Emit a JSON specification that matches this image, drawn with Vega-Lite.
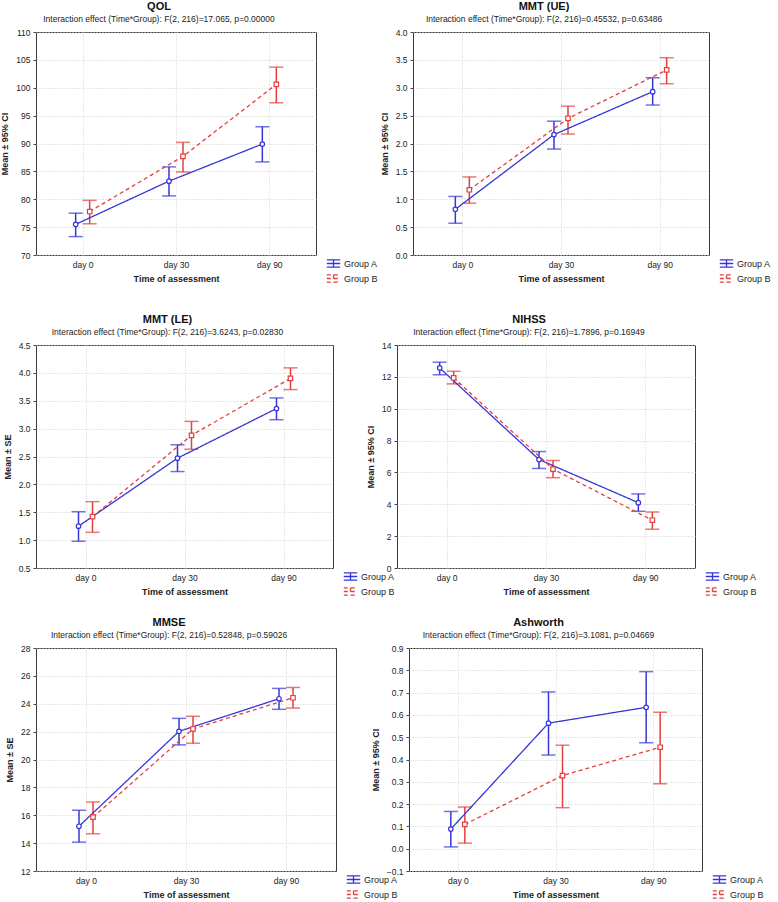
{
  "$schema": "https://vega.github.io/schema/vega-lite/v6.json",
  "padding": {"left": 0, "top": 0, "right": 0, "bottom": 0},
  "background": "white",
  "datasets": {
    "d": [
      {"measure": "QOL", "time": "day 0", "group": "Group A", "mean": 75.5, "lo": 73.3, "hi": 77.5},
      {"measure": "QOL", "time": "day 30", "group": "Group A", "mean": 83.25, "lo": 80.6, "hi": 85.8},
      {"measure": "QOL", "time": "day 90", "group": "Group A", "mean": 89.9, "lo": 86.7, "hi": 93.0},
      {"measure": "QOL", "time": "day 0", "group": "Group B", "mean": 77.8, "lo": 75.6, "hi": 79.8},
      {"measure": "QOL", "time": "day 30", "group": "Group B", "mean": 87.7, "lo": 84.9, "hi": 90.2},
      {"measure": "QOL", "time": "day 90", "group": "Group B", "mean": 100.6, "lo": 97.3, "hi": 103.7},
      {"measure": "UE", "time": "day 0", "group": "Group A", "mean": 0.82, "lo": 0.57, "hi": 1.05},
      {"measure": "UE", "time": "day 30", "group": "Group A", "mean": 2.16, "lo": 1.90, "hi": 2.40},
      {"measure": "UE", "time": "day 90", "group": "Group A", "mean": 2.93, "lo": 2.69, "hi": 3.18},
      {"measure": "UE", "time": "day 0", "group": "Group B", "mean": 1.17, "lo": 0.93, "hi": 1.40},
      {"measure": "UE", "time": "day 30", "group": "Group B", "mean": 2.45, "lo": 2.17, "hi": 2.67},
      {"measure": "UE", "time": "day 90", "group": "Group B", "mean": 3.32, "lo": 3.07, "hi": 3.54},
      {"measure": "LE", "time": "day 0", "group": "Group A", "mean": 1.25, "lo": 0.98, "hi": 1.51},
      {"measure": "LE", "time": "day 30", "group": "Group A", "mean": 2.47, "lo": 2.23, "hi": 2.71},
      {"measure": "LE", "time": "day 90", "group": "Group A", "mean": 3.36, "lo": 3.16, "hi": 3.55},
      {"measure": "LE", "time": "day 0", "group": "Group B", "mean": 1.42, "lo": 1.14, "hi": 1.69},
      {"measure": "LE", "time": "day 30", "group": "Group B", "mean": 2.88, "lo": 2.63, "hi": 3.13},
      {"measure": "LE", "time": "day 90", "group": "Group B", "mean": 3.90, "lo": 3.70, "hi": 4.09},
      {"measure": "NIHSS", "time": "day 0", "group": "Group A", "mean": 12.56, "lo": 12.13, "hi": 12.92},
      {"measure": "NIHSS", "time": "day 30", "group": "Group A", "mean": 6.81, "lo": 6.25, "hi": 7.31},
      {"measure": "NIHSS", "time": "day 90", "group": "Group A", "mean": 4.1, "lo": 3.56, "hi": 4.65},
      {"measure": "NIHSS", "time": "day 0", "group": "Group B", "mean": 11.94, "lo": 11.56, "hi": 12.35},
      {"measure": "NIHSS", "time": "day 30", "group": "Group B", "mean": 6.21, "lo": 5.67, "hi": 6.75},
      {"measure": "NIHSS", "time": "day 90", "group": "Group B", "mean": 3.0, "lo": 2.44, "hi": 3.52},
      {"measure": "MMSE", "time": "day 0", "group": "Group A", "mean": 15.21, "lo": 14.07, "hi": 16.36},
      {"measure": "MMSE", "time": "day 30", "group": "Group A", "mean": 22.02, "lo": 21.05, "hi": 22.95},
      {"measure": "MMSE", "time": "day 90", "group": "Group A", "mean": 24.36, "lo": 23.6, "hi": 25.1},
      {"measure": "MMSE", "time": "day 0", "group": "Group B", "mean": 15.86, "lo": 14.67, "hi": 16.95},
      {"measure": "MMSE", "time": "day 30", "group": "Group B", "mean": 22.19, "lo": 21.17, "hi": 23.1},
      {"measure": "MMSE", "time": "day 90", "group": "Group B", "mean": 24.43, "lo": 23.69, "hi": 25.17},
      {"measure": "Ashworth", "time": "day 0", "group": "Group A", "mean": 0.088, "lo": 0.008, "hi": 0.167},
      {"measure": "Ashworth", "time": "day 30", "group": "Group A", "mean": 0.563, "lo": 0.42, "hi": 0.703},
      {"measure": "Ashworth", "time": "day 90", "group": "Group A", "mean": 0.634, "lo": 0.475, "hi": 0.794},
      {"measure": "Ashworth", "time": "day 0", "group": "Group B", "mean": 0.109, "lo": 0.025, "hi": 0.187},
      {"measure": "Ashworth", "time": "day 30", "group": "Group B", "mean": 0.328, "lo": 0.184, "hi": 0.464},
      {"measure": "Ashworth", "time": "day 90", "group": "Group B", "mean": 0.455, "lo": 0.291, "hi": 0.612}
    ]
  },
  "vconcat": [
    {
      "hconcat": [
        {
          "width": 280, "height": 223,
          "title": {"text": "QOL", "subtitle": "Interaction effect (Time*Group): F(2, 216)=17.065, p=0.00000"},
          "data": {"name": "d"},
          "transform": [{"filter": "datum.measure === 'QOL'"}],
          "encoding": {
            "x": {"field": "time", "type": "ordinal", "sort": ["day 0", "day 30", "day 90"], "scale": {"type": "point", "padding": 0.5}, "axis": {"title": "Time of assessment", "labelAngle": 0, "ticks": false, "labelPadding": 5, "titlePadding": 6}},
            "xOffset": {"field": "group", "type": "nominal", "scale": {"type": "point", "range": [-7, 7], "padding": 0}}
          },
          "layer": [
            {"mark": {"type": "rule", "strokeWidth": 1.5}, "encoding": {"y": {"field": "lo", "type": "quantitative", "title": "Mean ± 95% CI", "scale": {"domain": [70, 110], "nice": false, "zero": false}, "axis": {"values": [70, 75, 80, 85, 90, 95, 100, 105, 110]}}, "y2": {"field": "hi"}, "color": {"field": "group", "type": "nominal", "scale": {"domain": ["Group A", "Group B"], "range": ["#3636d8", "#e2403f"]}, "legend": {"title": null, "orient": "none", "legendX": 290, "legendY": 224, "symbolType": "M-1,-0.55H1M-1,0.55H1M0,-0.55V0.55M-1,0H1", "symbolSize": 180, "symbolStrokeWidth": 1.3, "symbolFillColor": "white"}}}},
            {"mark": {"type": "tick", "thickness": 1.5, "size": 14}, "encoding": {"y": {"field": "lo", "type": "quantitative", "title": "Mean ± 95% CI", "axis": {"values": [70, 75, 80, 85, 90, 95, 100, 105, 110]}}, "fill": {"field": "group", "type": "nominal", "scale": {"domain": ["Group A", "Group B"], "range": ["#3636d8", "#e2403f"]}, "legend": null}}},
            {"mark": {"type": "tick", "thickness": 1.5, "size": 14}, "encoding": {"y": {"field": "hi", "type": "quantitative", "title": "Mean ± 95% CI", "axis": {"values": [70, 75, 80, 85, 90, 95, 100, 105, 110]}}, "fill": {"field": "group", "type": "nominal", "scale": {"domain": ["Group A", "Group B"], "range": ["#3636d8", "#e2403f"]}, "legend": null}}},
            {"mark": {"type": "line", "strokeWidth": 1.3}, "encoding": {"y": {"field": "mean", "type": "quantitative", "title": "Mean ± 95% CI", "axis": {"values": [70, 75, 80, 85, 90, 95, 100, 105, 110]}}, "color": {"field": "group", "type": "nominal", "scale": {"domain": ["Group A", "Group B"], "range": ["#3636d8", "#e2403f"]}, "legend": {"title": null, "orient": "none", "legendX": 290, "legendY": 224, "symbolType": "M-1,-0.55H1M-1,0.55H1M0,-0.55V0.55M-1,0H1", "symbolSize": 180, "symbolStrokeWidth": 1.3, "symbolFillColor": "white"}}, "strokeDash": {"field": "group", "type": "nominal", "scale": {"domain": ["Group A", "Group B"], "range": [[1, 0], [4, 3]]}, "legend": null}}},
            {"transform": [{"filter": "datum.group === 'Group A'"}], "mark": {"type": "point", "shape": "circle", "filled": false, "fill": "white", "fillOpacity": 1, "stroke": "#3636d8", "size": 20, "strokeWidth": 1.2}, "encoding": {"y": {"field": "mean", "type": "quantitative", "title": "Mean ± 95% CI", "axis": {"values": [70, 75, 80, 85, 90, 95, 100, 105, 110]}}}},
            {"transform": [{"filter": "datum.group === 'Group B'"}], "mark": {"type": "point", "shape": "square", "filled": false, "fill": "white", "fillOpacity": 1, "stroke": "#e2403f", "size": 20, "strokeWidth": 1.2}, "encoding": {"y": {"field": "mean", "type": "quantitative", "title": "Mean ± 95% CI", "axis": {"values": [70, 75, 80, 85, 90, 95, 100, 105, 110]}}}}
          ]
        },
        {
          "width": 296, "height": 223,
          "title": {"text": "MMT (UE)", "subtitle": "Interaction effect (Time*Group): F(2, 216)=0.45532, p=0.63486"},
          "data": {"name": "d"},
          "transform": [{"filter": "datum.measure === 'UE'"}],
          "encoding": {
            "x": {"field": "time", "type": "ordinal", "sort": ["day 0", "day 30", "day 90"], "scale": {"type": "point", "padding": 0.5}, "axis": {"title": "Time of assessment", "labelAngle": 0, "ticks": false, "labelPadding": 5, "titlePadding": 6}},
            "xOffset": {"field": "group", "type": "nominal", "scale": {"type": "point", "range": [-7, 7], "padding": 0}}
          },
          "layer": [
            {"mark": {"type": "rule", "strokeWidth": 1.5}, "encoding": {"y": {"field": "lo", "type": "quantitative", "title": "Mean ± 95% CI", "scale": {"domain": [0, 4], "nice": false}, "axis": {"values": [0, 0.5, 1, 1.5, 2, 2.5, 3, 3.5, 4], "format": ".1f"}}, "y2": {"field": "hi"}, "color": {"field": "group", "type": "nominal", "scale": {"domain": ["Group A", "Group B"], "range": ["#3636d8", "#e2403f"]}, "legend": {"title": null, "orient": "none", "legendX": 306, "legendY": 224, "symbolType": "M-1,-0.55H1M-1,0.55H1M0,-0.55V0.55M-1,0H1", "symbolSize": 180, "symbolStrokeWidth": 1.3, "symbolFillColor": "white"}}}},
            {"mark": {"type": "tick", "thickness": 1.5, "size": 14}, "encoding": {"y": {"field": "lo", "type": "quantitative", "title": "Mean ± 95% CI", "axis": {"values": [0, 0.5, 1, 1.5, 2, 2.5, 3, 3.5, 4], "format": ".1f"}}, "fill": {"field": "group", "type": "nominal", "scale": {"domain": ["Group A", "Group B"], "range": ["#3636d8", "#e2403f"]}, "legend": null}}},
            {"mark": {"type": "tick", "thickness": 1.5, "size": 14}, "encoding": {"y": {"field": "hi", "type": "quantitative", "title": "Mean ± 95% CI", "axis": {"values": [0, 0.5, 1, 1.5, 2, 2.5, 3, 3.5, 4], "format": ".1f"}}, "fill": {"field": "group", "type": "nominal", "scale": {"domain": ["Group A", "Group B"], "range": ["#3636d8", "#e2403f"]}, "legend": null}}},
            {"mark": {"type": "line", "strokeWidth": 1.3}, "encoding": {"y": {"field": "mean", "type": "quantitative", "title": "Mean ± 95% CI", "axis": {"values": [0, 0.5, 1, 1.5, 2, 2.5, 3, 3.5, 4], "format": ".1f"}}, "color": {"field": "group", "type": "nominal", "scale": {"domain": ["Group A", "Group B"], "range": ["#3636d8", "#e2403f"]}, "legend": {"title": null, "orient": "none", "legendX": 306, "legendY": 224, "symbolType": "M-1,-0.55H1M-1,0.55H1M0,-0.55V0.55M-1,0H1", "symbolSize": 180, "symbolStrokeWidth": 1.3, "symbolFillColor": "white"}}, "strokeDash": {"field": "group", "type": "nominal", "scale": {"domain": ["Group A", "Group B"], "range": [[1, 0], [4, 3]]}, "legend": null}}},
            {"transform": [{"filter": "datum.group === 'Group A'"}], "mark": {"type": "point", "shape": "circle", "filled": false, "fill": "white", "fillOpacity": 1, "stroke": "#3636d8", "size": 20, "strokeWidth": 1.2}, "encoding": {"y": {"field": "mean", "type": "quantitative", "title": "Mean ± 95% CI", "axis": {"values": [0, 0.5, 1, 1.5, 2, 2.5, 3, 3.5, 4], "format": ".1f"}}}},
            {"transform": [{"filter": "datum.group === 'Group B'"}], "mark": {"type": "point", "shape": "square", "filled": false, "fill": "white", "fillOpacity": 1, "stroke": "#e2403f", "size": 20, "strokeWidth": 1.2}, "encoding": {"y": {"field": "mean", "type": "quantitative", "title": "Mean ± 95% CI", "axis": {"values": [0, 0.5, 1, 1.5, 2, 2.5, 3, 3.5, 4], "format": ".1f"}}}}
          ]
        }
      ],
      "spacing": 0,
      "resolve": {"scale": {"color": "independent", "fill": "independent", "strokeDash": "independent", "y": "independent", "x": "independent", "xOffset": "independent"}}
    },
    {
      "vconcat": [
        {
          "hconcat": [
            {
              "width": 297, "height": 223,
              "title": {"text": "MMT (LE)", "subtitle": "Interaction effect (Time*Group): F(2, 216)=3.6243, p=0.02830"},
              "data": {"name": "d"},
              "transform": [{"filter": "datum.measure === 'LE'"}],
              "encoding": {
                "x": {"field": "time", "type": "ordinal", "sort": ["day 0", "day 30", "day 90"], "scale": {"type": "point", "padding": 0.5}, "axis": {"title": "Time of assessment", "labelAngle": 0, "ticks": false, "labelPadding": 5, "titlePadding": 6}},
                "xOffset": {"field": "group", "type": "nominal", "scale": {"type": "point", "range": [-7, 7], "padding": 0}}
              },
              "layer": [
                {"mark": {"type": "rule", "strokeWidth": 1.5}, "encoding": {"y": {"field": "lo", "type": "quantitative", "title": "Mean ± SE", "scale": {"domain": [0.5, 4.5], "nice": false, "zero": false}, "axis": {"values": [0.5, 1, 1.5, 2, 2.5, 3, 3.5, 4, 4.5], "format": ".1f"}}, "y2": {"field": "hi"}, "color": {"field": "group", "type": "nominal", "scale": {"domain": ["Group A", "Group B"], "range": ["#3636d8", "#e2403f"]}, "legend": {"title": null, "orient": "none", "legendX": 307, "legendY": 224, "symbolType": "M-1,-0.55H1M-1,0.55H1M0,-0.55V0.55M-1,0H1", "symbolSize": 180, "symbolStrokeWidth": 1.3, "symbolFillColor": "white"}}}},
                {"mark": {"type": "tick", "thickness": 1.5, "size": 14}, "encoding": {"y": {"field": "lo", "type": "quantitative", "title": "Mean ± SE", "axis": {"values": [0.5, 1, 1.5, 2, 2.5, 3, 3.5, 4, 4.5], "format": ".1f"}}, "fill": {"field": "group", "type": "nominal", "scale": {"domain": ["Group A", "Group B"], "range": ["#3636d8", "#e2403f"]}, "legend": null}}},
                {"mark": {"type": "tick", "thickness": 1.5, "size": 14}, "encoding": {"y": {"field": "hi", "type": "quantitative", "title": "Mean ± SE", "axis": {"values": [0.5, 1, 1.5, 2, 2.5, 3, 3.5, 4, 4.5], "format": ".1f"}}, "fill": {"field": "group", "type": "nominal", "scale": {"domain": ["Group A", "Group B"], "range": ["#3636d8", "#e2403f"]}, "legend": null}}},
                {"mark": {"type": "line", "strokeWidth": 1.3}, "encoding": {"y": {"field": "mean", "type": "quantitative", "title": "Mean ± SE", "axis": {"values": [0.5, 1, 1.5, 2, 2.5, 3, 3.5, 4, 4.5], "format": ".1f"}}, "color": {"field": "group", "type": "nominal", "scale": {"domain": ["Group A", "Group B"], "range": ["#3636d8", "#e2403f"]}, "legend": {"title": null, "orient": "none", "legendX": 307, "legendY": 224, "symbolType": "M-1,-0.55H1M-1,0.55H1M0,-0.55V0.55M-1,0H1", "symbolSize": 180, "symbolStrokeWidth": 1.3, "symbolFillColor": "white"}}, "strokeDash": {"field": "group", "type": "nominal", "scale": {"domain": ["Group A", "Group B"], "range": [[1, 0], [4, 3]]}, "legend": null}}},
                {"transform": [{"filter": "datum.group === 'Group A'"}], "mark": {"type": "point", "shape": "circle", "filled": false, "fill": "white", "fillOpacity": 1, "stroke": "#3636d8", "size": 20, "strokeWidth": 1.2}, "encoding": {"y": {"field": "mean", "type": "quantitative", "title": "Mean ± SE", "axis": {"values": [0.5, 1, 1.5, 2, 2.5, 3, 3.5, 4, 4.5], "format": ".1f"}}}},
                {"transform": [{"filter": "datum.group === 'Group B'"}], "mark": {"type": "point", "shape": "square", "filled": false, "fill": "white", "fillOpacity": 1, "stroke": "#e2403f", "size": 20, "strokeWidth": 1.2}, "encoding": {"y": {"field": "mean", "type": "quantitative", "title": "Mean ± SE", "axis": {"values": [0.5, 1, 1.5, 2, 2.5, 3, 3.5, 4, 4.5], "format": ".1f"}}}}
              ]
            },
            {
              "width": 298, "height": 223,
              "title": {"text": "NIHSS", "subtitle": "Interaction effect (Time*Group): F(2, 216)=1.7896, p=0.16949"},
              "data": {"name": "d"},
              "transform": [{"filter": "datum.measure === 'NIHSS'"}],
              "encoding": {
                "x": {"field": "time", "type": "ordinal", "sort": ["day 0", "day 30", "day 90"], "scale": {"type": "point", "padding": 0.5}, "axis": {"title": "Time of assessment", "labelAngle": 0, "ticks": false, "labelPadding": 5, "titlePadding": 6}},
                "xOffset": {"field": "group", "type": "nominal", "scale": {"type": "point", "range": [-7, 7], "padding": 0}}
              },
              "layer": [
                {"mark": {"type": "rule", "strokeWidth": 1.5}, "encoding": {"y": {"field": "lo", "type": "quantitative", "title": "Mean ± 95% CI", "scale": {"domain": [0, 14], "nice": false}, "axis": {"values": [0, 2, 4, 6, 8, 10, 12, 14]}}, "y2": {"field": "hi"}, "color": {"field": "group", "type": "nominal", "scale": {"domain": ["Group A", "Group B"], "range": ["#3636d8", "#e2403f"]}, "legend": {"title": null, "orient": "none", "legendX": 308, "legendY": 224, "symbolType": "M-1,-0.55H1M-1,0.55H1M0,-0.55V0.55M-1,0H1", "symbolSize": 180, "symbolStrokeWidth": 1.3, "symbolFillColor": "white"}}}},
                {"mark": {"type": "tick", "thickness": 1.5, "size": 14}, "encoding": {"y": {"field": "lo", "type": "quantitative", "title": "Mean ± 95% CI", "axis": {"values": [0, 2, 4, 6, 8, 10, 12, 14]}}, "fill": {"field": "group", "type": "nominal", "scale": {"domain": ["Group A", "Group B"], "range": ["#3636d8", "#e2403f"]}, "legend": null}}},
                {"mark": {"type": "tick", "thickness": 1.5, "size": 14}, "encoding": {"y": {"field": "hi", "type": "quantitative", "title": "Mean ± 95% CI", "axis": {"values": [0, 2, 4, 6, 8, 10, 12, 14]}}, "fill": {"field": "group", "type": "nominal", "scale": {"domain": ["Group A", "Group B"], "range": ["#3636d8", "#e2403f"]}, "legend": null}}},
                {"mark": {"type": "line", "strokeWidth": 1.3}, "encoding": {"y": {"field": "mean", "type": "quantitative", "title": "Mean ± 95% CI", "axis": {"values": [0, 2, 4, 6, 8, 10, 12, 14]}}, "color": {"field": "group", "type": "nominal", "scale": {"domain": ["Group A", "Group B"], "range": ["#3636d8", "#e2403f"]}, "legend": {"title": null, "orient": "none", "legendX": 308, "legendY": 224, "symbolType": "M-1,-0.55H1M-1,0.55H1M0,-0.55V0.55M-1,0H1", "symbolSize": 180, "symbolStrokeWidth": 1.3, "symbolFillColor": "white"}}, "strokeDash": {"field": "group", "type": "nominal", "scale": {"domain": ["Group A", "Group B"], "range": [[1, 0], [4, 3]]}, "legend": null}}},
                {"transform": [{"filter": "datum.group === 'Group A'"}], "mark": {"type": "point", "shape": "circle", "filled": false, "fill": "white", "fillOpacity": 1, "stroke": "#3636d8", "size": 20, "strokeWidth": 1.2}, "encoding": {"y": {"field": "mean", "type": "quantitative", "title": "Mean ± 95% CI", "axis": {"values": [0, 2, 4, 6, 8, 10, 12, 14]}}}},
                {"transform": [{"filter": "datum.group === 'Group B'"}], "mark": {"type": "point", "shape": "square", "filled": false, "fill": "white", "fillOpacity": 1, "stroke": "#e2403f", "size": 20, "strokeWidth": 1.2}, "encoding": {"y": {"field": "mean", "type": "quantitative", "title": "Mean ± 95% CI", "axis": {"values": [0, 2, 4, 6, 8, 10, 12, 14]}}}}
              ]
            }
          ],
          "spacing": -30,
          "resolve": {"scale": {"color": "independent", "fill": "independent", "strokeDash": "independent", "y": "independent", "x": "independent", "xOffset": "independent"}}
        },
        {
          "hconcat": [
            {
              "width": 300, "height": 223,
              "title": {"text": "MMSE", "subtitle": "Interaction effect (Time*Group): F(2, 216)=0.52848, p=0.59026"},
              "data": {"name": "d"},
              "transform": [{"filter": "datum.measure === 'MMSE'"}],
              "encoding": {
                "x": {"field": "time", "type": "ordinal", "sort": ["day 0", "day 30", "day 90"], "scale": {"type": "point", "padding": 0.5}, "axis": {"title": "Time of assessment", "labelAngle": 0, "ticks": false, "labelPadding": 5, "titlePadding": 6}},
                "xOffset": {"field": "group", "type": "nominal", "scale": {"type": "point", "range": [-7, 7], "padding": 0}}
              },
              "layer": [
                {"mark": {"type": "rule", "strokeWidth": 1.5}, "encoding": {"y": {"field": "lo", "type": "quantitative", "title": "Mean ± SE", "scale": {"domain": [12, 28], "nice": false, "zero": false}, "axis": {"values": [12, 14, 16, 18, 20, 22, 24, 26, 28]}}, "y2": {"field": "hi"}, "color": {"field": "group", "type": "nominal", "scale": {"domain": ["Group A", "Group B"], "range": ["#3636d8", "#e2403f"]}, "legend": {"title": null, "orient": "none", "legendX": 310, "legendY": 224, "symbolType": "M-1,-0.55H1M-1,0.55H1M0,-0.55V0.55M-1,0H1", "symbolSize": 180, "symbolStrokeWidth": 1.3, "symbolFillColor": "white"}}}},
                {"mark": {"type": "tick", "thickness": 1.5, "size": 14}, "encoding": {"y": {"field": "lo", "type": "quantitative", "title": "Mean ± SE", "axis": {"values": [12, 14, 16, 18, 20, 22, 24, 26, 28]}}, "fill": {"field": "group", "type": "nominal", "scale": {"domain": ["Group A", "Group B"], "range": ["#3636d8", "#e2403f"]}, "legend": null}}},
                {"mark": {"type": "tick", "thickness": 1.5, "size": 14}, "encoding": {"y": {"field": "hi", "type": "quantitative", "title": "Mean ± SE", "axis": {"values": [12, 14, 16, 18, 20, 22, 24, 26, 28]}}, "fill": {"field": "group", "type": "nominal", "scale": {"domain": ["Group A", "Group B"], "range": ["#3636d8", "#e2403f"]}, "legend": null}}},
                {"mark": {"type": "line", "strokeWidth": 1.3}, "encoding": {"y": {"field": "mean", "type": "quantitative", "title": "Mean ± SE", "axis": {"values": [12, 14, 16, 18, 20, 22, 24, 26, 28]}}, "color": {"field": "group", "type": "nominal", "scale": {"domain": ["Group A", "Group B"], "range": ["#3636d8", "#e2403f"]}, "legend": {"title": null, "orient": "none", "legendX": 310, "legendY": 224, "symbolType": "M-1,-0.55H1M-1,0.55H1M0,-0.55V0.55M-1,0H1", "symbolSize": 180, "symbolStrokeWidth": 1.3, "symbolFillColor": "white"}}, "strokeDash": {"field": "group", "type": "nominal", "scale": {"domain": ["Group A", "Group B"], "range": [[1, 0], [4, 3]]}, "legend": null}}},
                {"transform": [{"filter": "datum.group === 'Group A'"}], "mark": {"type": "point", "shape": "circle", "filled": false, "fill": "white", "fillOpacity": 1, "stroke": "#3636d8", "size": 20, "strokeWidth": 1.2}, "encoding": {"y": {"field": "mean", "type": "quantitative", "title": "Mean ± SE", "axis": {"values": [12, 14, 16, 18, 20, 22, 24, 26, 28]}}}},
                {"transform": [{"filter": "datum.group === 'Group B'"}], "mark": {"type": "point", "shape": "square", "filled": false, "fill": "white", "fillOpacity": 1, "stroke": "#e2403f", "size": 20, "strokeWidth": 1.2}, "encoding": {"y": {"field": "mean", "type": "quantitative", "title": "Mean ± SE", "axis": {"values": [12, 14, 16, 18, 20, 22, 24, 26, 28]}}}}
              ]
            },
            {
              "width": 293, "height": 223,
              "title": {"text": "Ashworth", "subtitle": "Interaction effect (Time*Group): F(2, 216)=3.1081, p=0.04669"},
              "data": {"name": "d"},
              "transform": [{"filter": "datum.measure === 'Ashworth'"}],
              "encoding": {
                "x": {"field": "time", "type": "ordinal", "sort": ["day 0", "day 30", "day 90"], "scale": {"type": "point", "padding": 0.5}, "axis": {"title": "Time of assessment", "labelAngle": 0, "ticks": false, "labelPadding": 5, "titlePadding": 6}},
                "xOffset": {"field": "group", "type": "nominal", "scale": {"type": "point", "range": [-7, 7], "padding": 0}}
              },
              "layer": [
                {"mark": {"type": "rule", "strokeWidth": 1.5}, "encoding": {"y": {"field": "lo", "type": "quantitative", "title": "Mean ± 95% CI", "scale": {"domain": [-0.1, 0.9], "nice": false, "zero": false}, "axis": {"values": [-0.1, 0, 0.1, 0.2, 0.3, 0.4, 0.5, 0.6, 0.7, 0.8, 0.9], "format": ".1f"}}, "y2": {"field": "hi"}, "color": {"field": "group", "type": "nominal", "scale": {"domain": ["Group A", "Group B"], "range": ["#3636d8", "#e2403f"]}, "legend": {"title": null, "orient": "none", "legendX": 303, "legendY": 224, "symbolType": "M-1,-0.55H1M-1,0.55H1M0,-0.55V0.55M-1,0H1", "symbolSize": 180, "symbolStrokeWidth": 1.3, "symbolFillColor": "white"}}}},
                {"mark": {"type": "tick", "thickness": 1.5, "size": 14}, "encoding": {"y": {"field": "lo", "type": "quantitative", "title": "Mean ± 95% CI", "axis": {"values": [-0.1, 0, 0.1, 0.2, 0.3, 0.4, 0.5, 0.6, 0.7, 0.8, 0.9], "format": ".1f"}}, "fill": {"field": "group", "type": "nominal", "scale": {"domain": ["Group A", "Group B"], "range": ["#3636d8", "#e2403f"]}, "legend": null}}},
                {"mark": {"type": "tick", "thickness": 1.5, "size": 14}, "encoding": {"y": {"field": "hi", "type": "quantitative", "title": "Mean ± 95% CI", "axis": {"values": [-0.1, 0, 0.1, 0.2, 0.3, 0.4, 0.5, 0.6, 0.7, 0.8, 0.9], "format": ".1f"}}, "fill": {"field": "group", "type": "nominal", "scale": {"domain": ["Group A", "Group B"], "range": ["#3636d8", "#e2403f"]}, "legend": null}}},
                {"mark": {"type": "line", "strokeWidth": 1.3}, "encoding": {"y": {"field": "mean", "type": "quantitative", "title": "Mean ± 95% CI", "axis": {"values": [-0.1, 0, 0.1, 0.2, 0.3, 0.4, 0.5, 0.6, 0.7, 0.8, 0.9], "format": ".1f"}}, "color": {"field": "group", "type": "nominal", "scale": {"domain": ["Group A", "Group B"], "range": ["#3636d8", "#e2403f"]}, "legend": {"title": null, "orient": "none", "legendX": 303, "legendY": 224, "symbolType": "M-1,-0.55H1M-1,0.55H1M0,-0.55V0.55M-1,0H1", "symbolSize": 180, "symbolStrokeWidth": 1.3, "symbolFillColor": "white"}}, "strokeDash": {"field": "group", "type": "nominal", "scale": {"domain": ["Group A", "Group B"], "range": [[1, 0], [4, 3]]}, "legend": null}}},
                {"transform": [{"filter": "datum.group === 'Group A'"}], "mark": {"type": "point", "shape": "circle", "filled": false, "fill": "white", "fillOpacity": 1, "stroke": "#3636d8", "size": 20, "strokeWidth": 1.2}, "encoding": {"y": {"field": "mean", "type": "quantitative", "title": "Mean ± 95% CI", "axis": {"values": [-0.1, 0, 0.1, 0.2, 0.3, 0.4, 0.5, 0.6, 0.7, 0.8, 0.9], "format": ".1f"}}}},
                {"transform": [{"filter": "datum.group === 'Group B'"}], "mark": {"type": "point", "shape": "square", "filled": false, "fill": "white", "fillOpacity": 1, "stroke": "#e2403f", "size": 20, "strokeWidth": 1.2}, "encoding": {"y": {"field": "mean", "type": "quantitative", "title": "Mean ± 95% CI", "axis": {"values": [-0.1, 0, 0.1, 0.2, 0.3, 0.4, 0.5, 0.6, 0.7, 0.8, 0.9], "format": ".1f"}}}}
              ]
            }
          ],
          "spacing": -29,
          "resolve": {"scale": {"color": "independent", "fill": "independent", "strokeDash": "independent", "y": "independent", "x": "independent", "xOffset": "independent"}}
        }
      ],
      "spacing": 17,
      "resolve": {"scale": {"color": "independent", "fill": "independent", "strokeDash": "independent", "y": "independent", "x": "independent", "xOffset": "independent"}}
    }
  ],
  "spacing": 27,
  "resolve": {"scale": {"color": "independent", "fill": "independent", "strokeDash": "independent", "y": "independent", "x": "independent", "xOffset": "independent"}},
  "config": {
    "font": "Liberation Sans",
    "view": {"stroke": "#3a3a3a", "strokeWidth": 1},
    "title": {"fontSize": 11, "fontWeight": "bold", "color": "#111", "subtitleFontSize": 8.5, "subtitleColor": "#222", "subtitlePadding": 3, "offset": 5, "anchor": "middle", "frame": "group", "dx": -17, "font": "Liberation Sans", "subtitleFont": "Liberation Sans"},
    "axis": {"labelFont": "Liberation Sans", "labelFontSize": 8.5, "labelColor": "#222", "titleFont": "Liberation Sans", "titleFontSize": 9, "titleFontWeight": "bold", "titleColor": "#222", "domain": false, "grid": true, "gridColor": "#cfcfcf", "gridDash": [1, 2], "tickColor": "#444", "tickSize": 3},
    "axisY": {"titlePadding": 6, "labelPadding": 3},
    "legend": {"labelFont": "Liberation Sans", "labelFontSize": 9, "labelColor": "#222", "rowPadding": 1, "labelOffset": 3}
  }
}
